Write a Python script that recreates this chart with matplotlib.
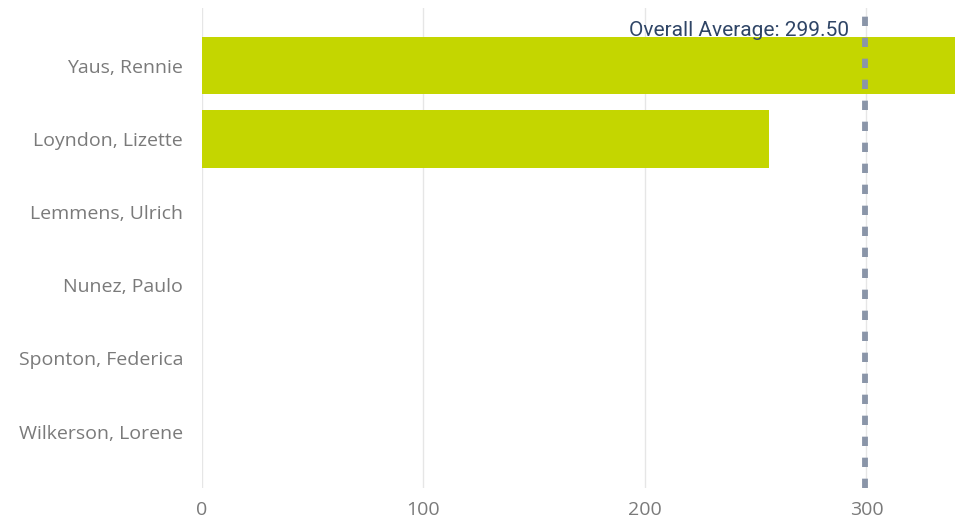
import numpy as np
import matplotlib.pyplot as plt

names = ["Yaus, Rennie", "Loyndon, Lizette", "Lemmens, Ulrich",
         "Nunez, Paulo", "Sponton, Federica", "Wilkerson, Lorene"]
values = [343, 256, 0, 0, 0, 0]
avg = 299.5
xticks = [0, 100, 200, 300]

plt.rcParams['font.family'] = ['Open Sans', 'DejaVu Sans']

fig = plt.figure(figsize=(9.55, 5.24), dpi=100)
ax = fig.add_axes([0.2115, 0.0687, 0.7885, 0.916])

y = np.arange(len(names))
ax.barh(y, values, height=0.78, color='#C4D600', zorder=2)
ax.set_yticks(y)
ax.set_yticklabels(names)
ax.set_ylim(5.77, -0.79)
ax.set_xlim(0, 340)
ax.set_xticks(xticks)

ax.grid(axis='x', color='#E6E6E6', linewidth=1, zorder=0)
ax.set_axisbelow(True)
for s in ax.spines.values():
    s.set_visible(False)
ax.tick_params(length=0, labelsize=14, labelcolor='#7A7A7A')
ax.tick_params(axis='y', pad=13.5)
ax.tick_params(axis='x', pad=9)

ax.axvline(avg, color='#8A95A8', linewidth=4.2, linestyle=(0, (1.6, 2.0)), zorder=3)
ax.text(avg - 7.5, -0.48, f"Overall Average: {avg:.2f}", ha='right', va='center',
        fontsize=15, color='#2F4566', family=['Roboto', 'DejaVu Sans'])

fig.savefig('out.png', dpi=100)
